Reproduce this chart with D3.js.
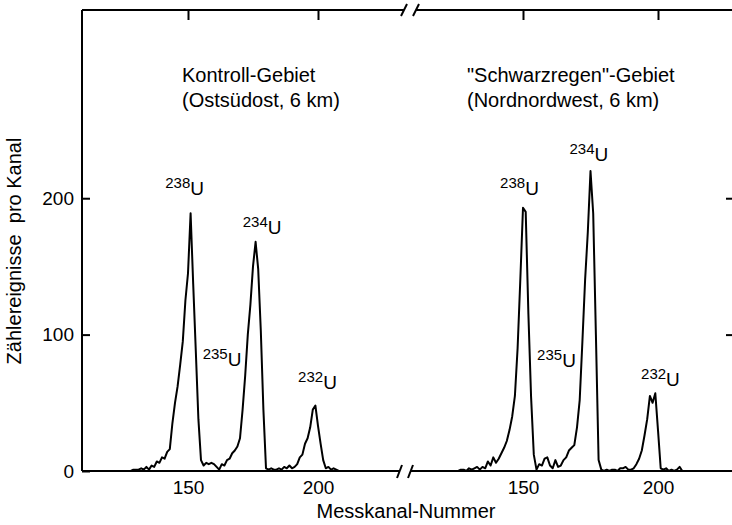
<!DOCTYPE html>
<html>
<head>
<meta charset="utf-8">
<script src="https://cdn.jsdelivr.net/npm/d3@7"></script>
<style>
  body { margin: 0; background: #fff; }
  svg { font-family: 'Liberation Sans', Arial, sans-serif; }
</style>
</head>
<body>
<div id="chart"></div>
<script>
const FONT_SIZE = 19
const TITLE_SIZE = 20
const SUP_SIZE = 15
const LINE_COLOR = '#000'

// Kontroll-Gebiet, Zählereignisse je Kanal ab Kanal 126
const leftStart = 126
const leftCounts = [
  0, 0, 0, 1, 1, 1, 2, 1, 3, 1,
  4, 3, 7, 6, 10, 9, 14, 16, 35, 50,
  62, 78, 95, 125, 145, 189, 137, 88, 38, 8,
  4, 6, 5, 6, 5, 3, 1, 5, 4, 8,
  9, 13, 15, 18, 24, 45, 70, 100, 122, 150,
  168, 148, 103, 45, 2, 1, 2, 1, 1, 2,
  1, 3, 2, 4, 2, 3, 5, 10, 12, 20,
  24, 32, 45, 48, 33, 20, 8, 2, 3, 1,
  2, 1, 0, 0
]

// "Schwarzregen"-Gebiet, ab Kanal 125
const rightStart = 125
const rightCounts = [
  0, 0, 1, 1, 0, 2, 1, 2, 3, 1,
  3, 2, 7, 4, 10, 6, 9, 13, 17, 22,
  30, 40, 55, 90, 140, 193, 190, 115, 54, 12,
  1, 5, 4, 9, 10, 4, 2, 8, 3, 4,
  8, 10, 15, 17, 19, 32, 52, 95, 140, 175,
  220, 189, 100, 8, 1, 0, 1, 0, 1, 1,
  0, 2, 2, 3, 1, 1, 2, 5, 9, 15,
  26, 38, 55, 50, 57, 30, 2, 1, 2, 0,
  1, 0, 1, 3, 0, 0
]

const xTicks = [150, 200]
const yTicks = [0, 100, 200]

// Isotopen-Beschriftung: [Panel, Masse, Kanal, Zählrate]
const isoPanel = ['left', 'left', 'left', 'left', 'right', 'right', 'right', 'right']
const isoMass = ['238', '234', '235', '232', '238', '234', '235', '232']
const isoChannel = [148.7, 178.5, 163.1, 199.8, 148.7, 174.4, 162.4, 200.9]
const isoCount = [202, 174, 77, 60, 202, 227, 76, 62]

const panelTitles = [
  ['Kontroll-Gebiet', '(Ostsüdost, 6 km)'],
  ['"Schwarzregen"-Gebiet', '(Nordnordwest, 6 km)']
]

// ===================== SETUP =====================
var width = 732
var height = 525
var margin = {top: 10, right: 0, bottom: 54, left: 82}
var svg = d3.select('#chart').append('svg')
  .attr('width', width)
  .attr('height', height)

var yScale = d3.scaleLinear()
  .domain([0, 338])
  .range([471, 10])

var xLeft = d3.scaleLinear().domain([150, 200]).range([188, 318])
var xRight = d3.scaleLinear().domain([150, 200]).range([523, 658])
var scales = {left: xLeft, right: xRight}

var y0 = yScale(0)
var yTop = yScale.range()[1]

// ===================== FRAME =====================
var frame = svg.append('g')
  .attr('fill', 'none')
  .attr('stroke', LINE_COLOR)
  .attr('stroke-width', 2)

// left axis
frame.append('line')
  .attr('x1', margin.left).attr('x2', margin.left)
  .attr('y1', yTop).attr('y2', y0)
// top line with break
frame.append('line').attr('x1', margin.left).attr('x2', 404).attr('y1', yTop).attr('y2', yTop)
frame.append('line').attr('x1', 416).attr('x2', width).attr('y1', yTop).attr('y2', yTop)
frame.append('line').attr('x1', 401).attr('x2', 407).attr('y1', yTop + 6).attr('y2', yTop - 6)
frame.append('line').attr('x1', 413).attr('x2', 419).attr('y1', yTop + 6).attr('y2', yTop - 6)
// bottom line with break
frame.append('line').attr('x1', margin.left).attr('x2', 399).attr('y1', y0).attr('y2', y0)
frame.append('line').attr('x1', 411).attr('x2', width).attr('y1', y0).attr('y2', y0)
frame.append('line').attr('x1', 397).attr('x2', 402).attr('y1', y0 + 7).attr('y2', y0 - 6)
frame.append('line').attr('x1', 408).attr('x2', 413).attr('y1', y0 + 7).attr('y2', y0 - 6)

// ===================== AXES =====================
var yAxis = svg.append('g')
  .attr('transform', 'translate(' + margin.left + ',0)')
  .call(d3.axisLeft(yScale).tickValues(yTicks).tickSize(-8).tickPadding(8))
yAxis.select('.domain').remove()
yAxis.selectAll('line').attr('stroke-width', 2)
yAxis.selectAll('text').style('font-size', FONT_SIZE + 'px').attr('fill', '#000')

var yRight = svg.append('g')
  .attr('transform', 'translate(' + width + ',0)')
  .call(d3.axisRight(yScale).tickValues([100, 200]).tickSize(-6).tickFormat(''))
yRight.select('.domain').remove()
yRight.selectAll('line').attr('stroke-width', 2)

for (let key of ['left', 'right']) {
  var xb = svg.append('g')
    .attr('transform', 'translate(0,' + y0 + ')')
    .call(d3.axisBottom(scales[key]).tickValues(xTicks).tickSize(0).tickPadding(10))
  xb.select('.domain').remove()
  xb.selectAll('text').style('font-size', FONT_SIZE + 'px').attr('fill', '#000')

  var xt = svg.append('g')
    .attr('transform', 'translate(0,' + yTop + ')')
    .call(d3.axisTop(scales[key]).tickValues(xTicks).tickSize(-10).tickFormat(''))
  xt.select('.domain').remove()
  xt.selectAll('line').attr('stroke-width', 2)
}

// axis titles
svg.append('text')
  .attr('x', 406)
  .attr('y', 518)
  .attr('text-anchor', 'middle')
  .style('font-size', TITLE_SIZE + 'px')
  .text('Messkanal-Nummer')

svg.append('text')
  .attr('transform', 'translate(21,251) rotate(-90)')
  .attr('text-anchor', 'middle')
  .style('font-size', TITLE_SIZE + 'px')
  .style('white-space', 'pre')
  .text('Zählereignisse  pro Kanal')

// ===================== SPECTRA =====================
var line = d3.line()
  .x(d => d[0])
  .y(d => yScale(d[1]))

var spectra = [
  {scale: xLeft, start: leftStart, counts: leftCounts},
  {scale: xRight, start: rightStart, counts: rightCounts}
]
for (let s of spectra) {
  var pts = s.counts.map((c, i) => [s.scale(s.start + i), c])
  svg.append('path')
    .attr('d', line(pts))
    .attr('fill', 'none')
    .attr('stroke', LINE_COLOR)
    .attr('stroke-width', 2)
    .attr('stroke-linejoin', 'round')
}

// ===================== LABELS =====================
for (let i = 0; i < isoMass.length; i++) {
  var t = svg.append('text')
    .attr('x', scales[isoPanel[i]](isoChannel[i]))
    .attr('y', yScale(isoCount[i]))
    .attr('text-anchor', 'middle')
  t.append('tspan')
    .attr('dy', -7)
    .style('font-size', SUP_SIZE + 'px')
    .text(isoMass[i])
  t.append('tspan')
    .attr('dy', 7)
    .style('font-size', FONT_SIZE + 'px')
    .text('U')
}

var titleX = [182, 467]
panelTitles.forEach((lines, k) => {
  lines.forEach((txt, j) => {
    svg.append('text')
      .attr('x', titleX[k])
      .attr('y', 82 + j * 25)
      .style('font-size', TITLE_SIZE + 'px')
      .text(txt)
  })
})
</script>
</body>
</html>
